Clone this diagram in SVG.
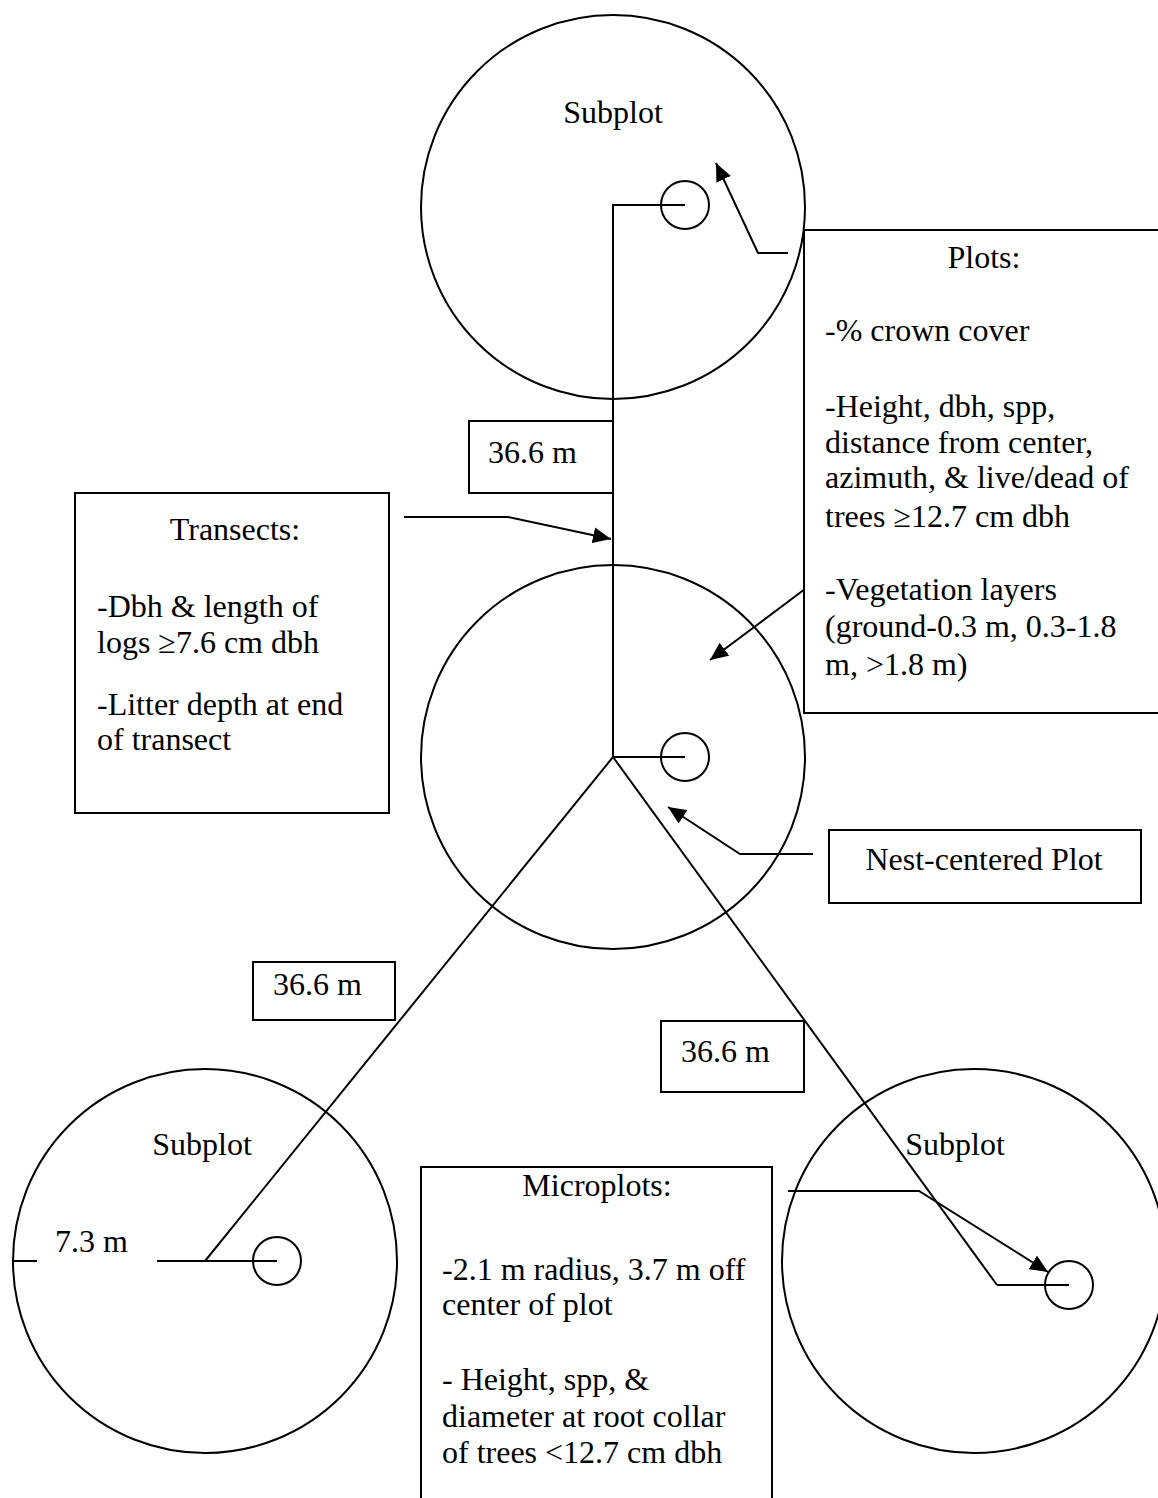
<svg xmlns="http://www.w3.org/2000/svg" width="1158" height="1498" viewBox="0 0 1158 1498">
<style>
.s{fill:none;stroke:#000;stroke-width:2}
.b{fill:#fff;stroke:#000;stroke-width:2}
text{font-family:'Liberation Serif','Times New Roman',serif;font-size:32px;fill:#000}
.c{text-anchor:middle}
</style>
<defs>
<marker id="ah" markerUnits="userSpaceOnUse" markerWidth="20" markerHeight="16" viewBox="0 0 20 16" refX="18" refY="8" orient="auto">
<path d="M0,0 L18,8 L0,16 Z" fill="#000"/>
</marker>
</defs>
<rect width="1158" height="1498" fill="#fff"/>

<g id="subplot-top">
<circle class="s" cx="613" cy="207" r="192"/>
<circle class="s" cx="685" cy="205" r="24"/>
<text class="c" x="613" y="123">Subplot</text>
</g>
<g id="center-plot">
<circle class="s" cx="613" cy="757" r="192"/>
<circle class="s" cx="685" cy="757" r="24"/>
</g>
<g id="subplot-left">
<circle class="s" cx="205" cy="1261" r="192"/>
<circle class="s" cx="277" cy="1261" r="24"/>
<text class="c" x="202" y="1155">Subplot</text>
</g>
<g id="subplot-right">
<circle class="s" cx="974" cy="1261" r="192"/>
<circle class="s" cx="1069" cy="1285" r="24"/>
<text class="c" x="955" y="1155">Subplot</text>
</g>

<g id="connectors">
<polyline class="s" points="685,205 613,205 613,757 685,757"/>
<line class="s" x1="613" y1="757" x2="205" y2="1261"/>
<line class="s" x1="613" y1="757" x2="997" y2="1285"/>
<line class="s" x1="997" y1="1285" x2="1069" y2="1285"/>
<line class="s" x1="13" y1="1261" x2="37" y2="1261"/>
<line class="s" x1="157" y1="1261" x2="277" y2="1261"/>
<polyline class="s" points="788,253 758,253 716,163" marker-end="url(#ah)"/>
<polyline class="s" points="404,517 508,517 611,539" marker-end="url(#ah)"/>
<line class="s" x1="805" y1="589" x2="710" y2="660" marker-end="url(#ah)"/>
<polyline class="s" points="813,854 740,854 668,807" marker-end="url(#ah)"/>
<polyline class="s" points="788,1191 919,1191 1048,1272" marker-end="url(#ah)"/>
</g>

<g id="label-7-3">
<text x="55" y="1252">7.3 m</text>
</g>

<g id="dist-top">
<rect class="b" x="469" y="421" width="144" height="72"/>
<text x="488" y="463">36.6 m</text>
</g>
<g id="dist-left">
<rect class="b" x="253" y="962" width="142" height="58"/>
<text x="273" y="995">36.6 m</text>
</g>
<g id="dist-right">
<rect class="b" x="661" y="1021" width="143" height="71"/>
<text x="681" y="1062">36.6 m</text>
</g>

<g id="plots-box">
<polyline class="b" points="1160,230 804,230 804,713 1160,713"/>
<text class="c" x="984" y="268">Plots:</text>
<text x="825" y="341">-% crown cover</text>
<text x="825" y="417">-Height, dbh, spp,</text>
<text x="825" y="453">distance from center,</text>
<text x="825" y="488">azimuth, &amp; live/dead of</text>
<text x="825" y="527">trees ≥12.7 cm dbh</text>
<text x="825" y="600">-Vegetation layers</text>
<text x="825" y="637">(ground-0.3 m, 0.3-1.8</text>
<text x="825" y="675">m, &gt;1.8 m)</text>
</g>

<g id="transects-box">
<rect class="b" x="75" y="493" width="314" height="320"/>
<text class="c" x="235" y="540">Transects:</text>
<text x="97" y="617">-Dbh &amp; length of</text>
<text x="97" y="653">logs ≥7.6 cm dbh</text>
<text x="97" y="715">-Litter depth at end</text>
<text x="97" y="750">of transect</text>
</g>

<g id="nest-box">
<rect class="b" x="829" y="830" width="312" height="73"/>
<text class="c" x="984" y="870">Nest-centered Plot</text>
</g>

<g id="microplots-box">
<polyline class="b" points="421,1500 421,1167 772,1167 772,1500"/>
<text class="c" x="597" y="1196">Microplots:</text>
<text x="442" y="1280">-2.1 m radius, 3.7 m off</text>
<text x="442" y="1315">center of plot</text>
<text x="442" y="1390">- Height, spp, &amp;</text>
<text x="442" y="1427">diameter at root collar</text>
<text x="442" y="1463">of trees &lt;12.7 cm dbh</text>
</g>
</svg>
